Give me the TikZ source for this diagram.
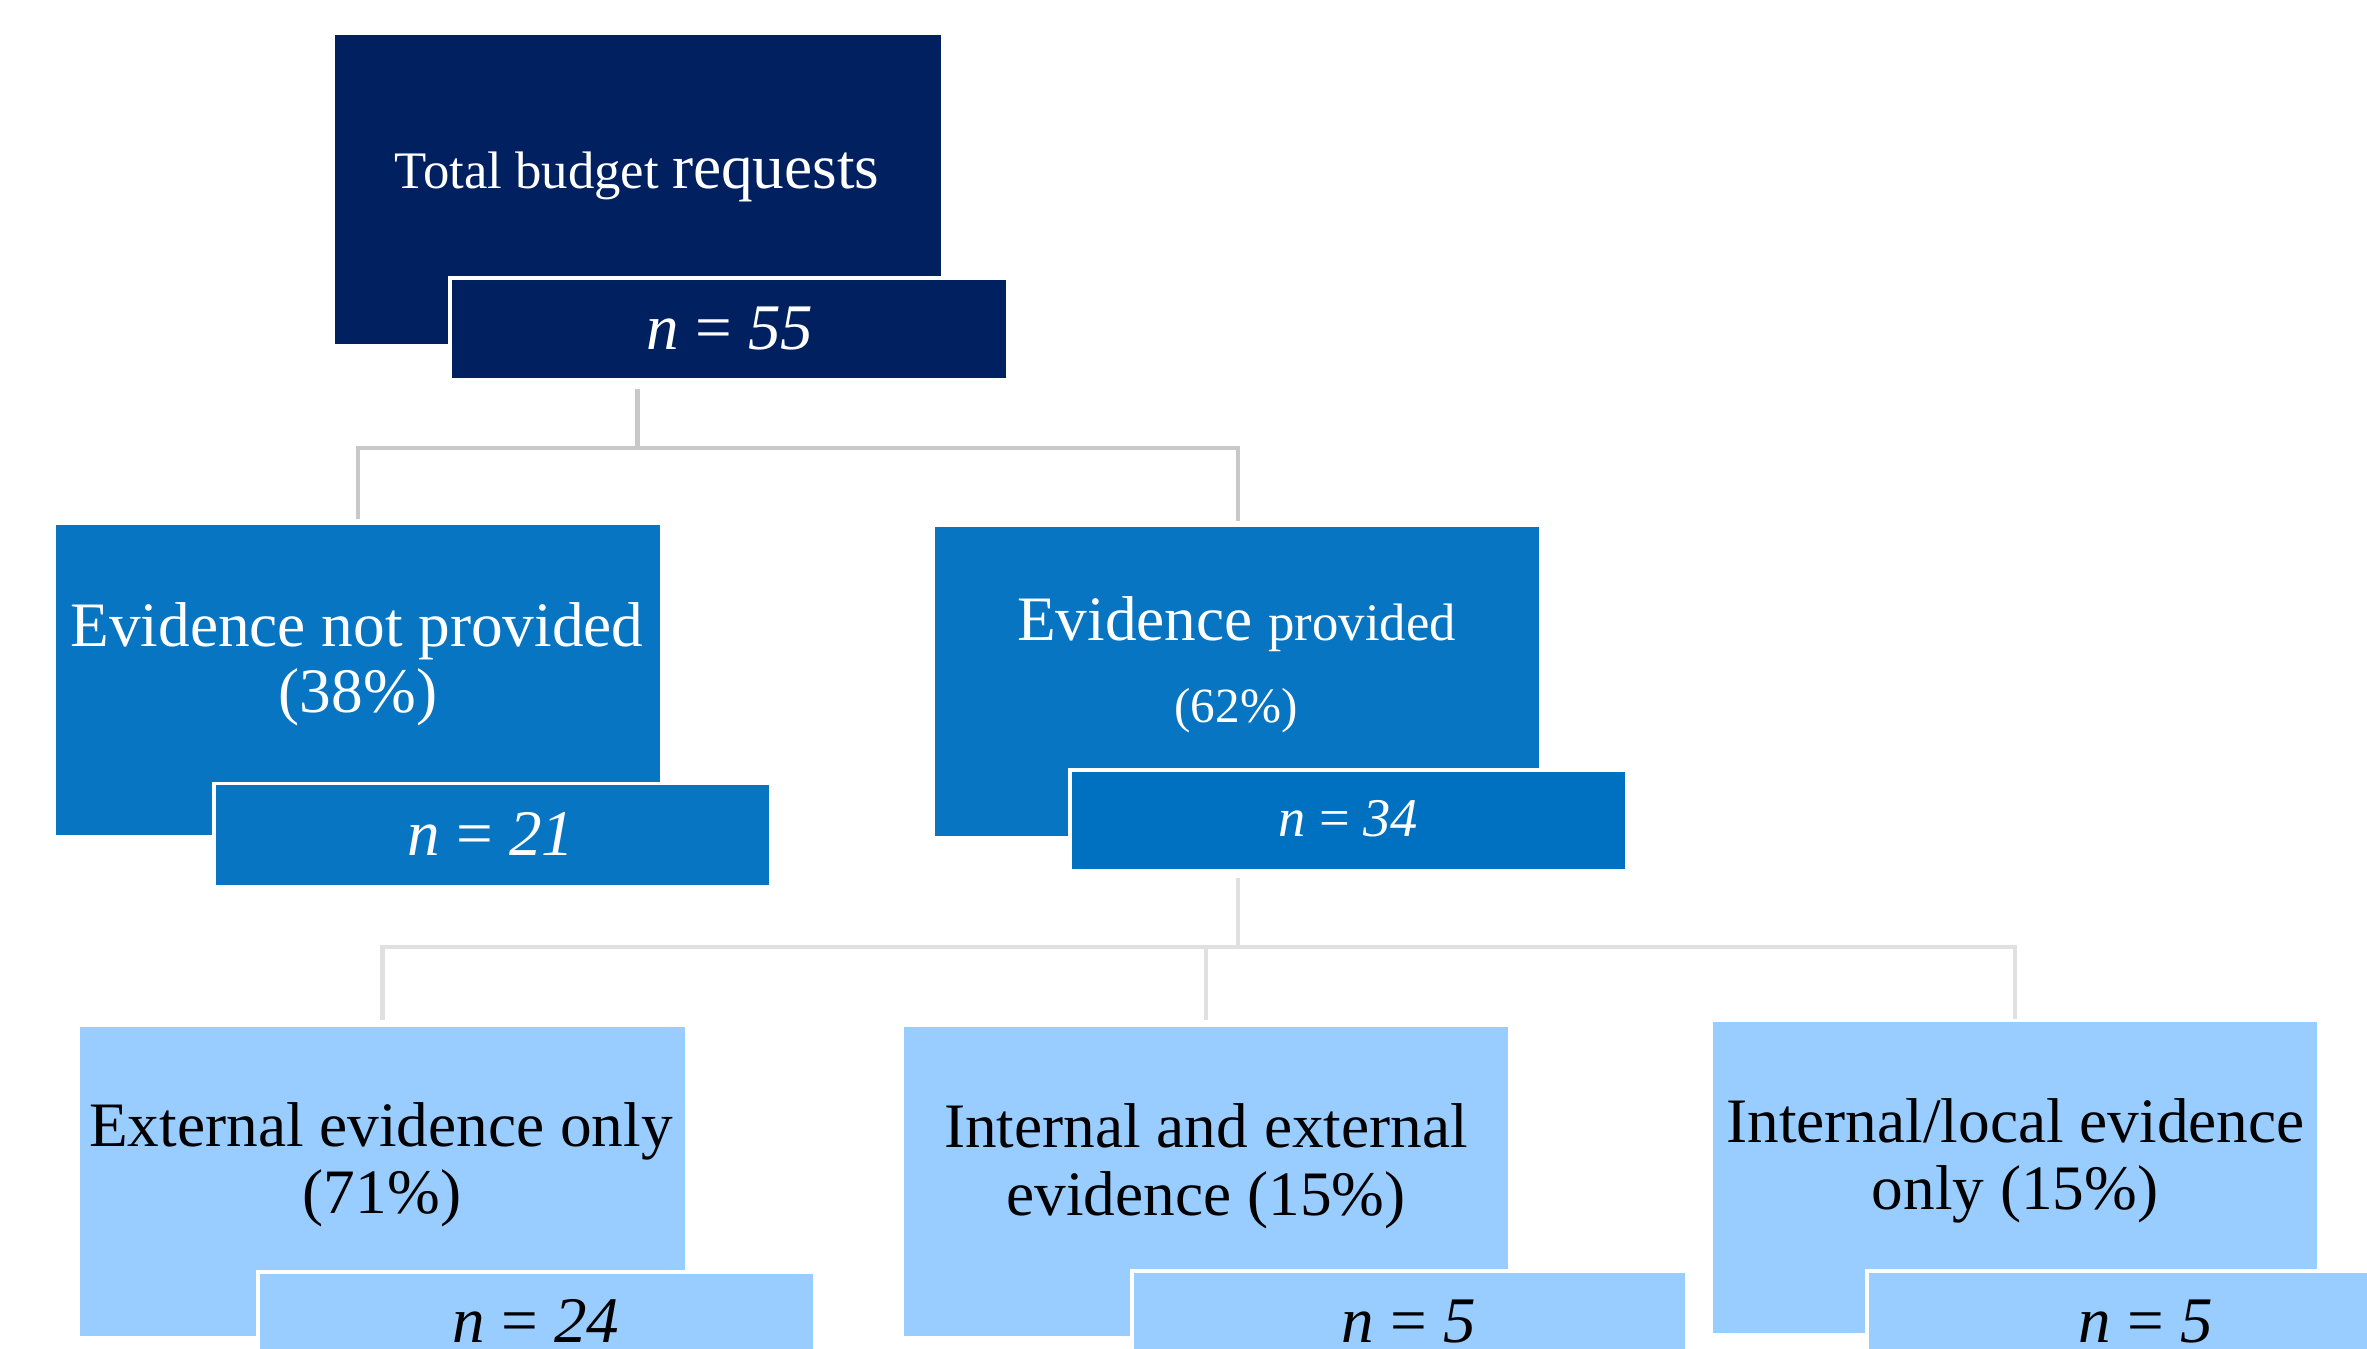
\documentclass[tikz,border=0pt]{standalone}
\usepackage{fontspec}
\setmainfont{Liberation Serif}
\usetikzlibrary{calc}
\definecolor{navy}{HTML}{002060}
\definecolor{midblue}{HTML}{0775C1}
\definecolor{midblueN}{HTML}{0070C0}
\definecolor{lightblue}{HTML}{99CCFF}
\definecolor{connA}{HTML}{C8C8C8}
\definecolor{connB}{HTML}{E0E0E0}
\begin{document}
\begin{tikzpicture}[x=0.01cm,y=-0.01cm,
  box/.style={rectangle, anchor=north west, inner sep=0pt, outer sep=0pt, draw=none},
  nbox/.style={box, draw=white, line width=0.035cm},
  lbl/.style={anchor=base, inner sep=0pt, outer sep=0pt},
  big/.style={font=\fontsize{18}{20}\selectfont},
  conn/.style={line width=0.045cm},
]
\clip (0,0) rectangle (2367,1349);
\fill[white] (0,0) rectangle (2367,1349);

% connectors level 1
\coordinate (j1) at (637.5,448);
\draw[conn, draw=connA] (637.5,389) -- (j1);
\draw[conn, draw=connA, shorten >=0.06cm] (j1) -| (358,525);
\draw[conn, draw=connA, shorten >=0.06cm] (j1) -| (1238,527);
% connectors level 2
\coordinate (j2) at (1238,947);
\draw[conn, draw=connB] (1238,878) -- (j2);
\draw[conn, draw=connB, shorten >=0.07cm] (j2) -| (382.5,1026.5);
\draw[conn, draw=connB, shorten >=0.07cm] (j2) -| (1206,1026.5);
\draw[conn, draw=connB, shorten >=0.03cm] (j2) -| (2015,1022);

% top
\node[box, fill=navy, minimum width=6.06cm, minimum height=3.09cm] (top) at (335,35) {};
\node[nbox, fill=navy, minimum width=5.57cm, minimum height=1.02cm] (topn) at (450,278) {};
\node[lbl, text=white] (toptxt) at (637,189) {\fontsize{15}{18}\selectfont Total budget \fontsize{18}{20}\selectfont requests};
\node[lbl, text=white, font=\fontsize{18.5}{20}\selectfont] (topntxt) at (730,350) {\textit{n} = \textit{55}};

% middle left
\node[box, fill=midblue, minimum width=6.04cm, minimum height=3.10cm] (midL) at (56,525) {};
\node[nbox, fill=midblue, minimum width=5.56cm, minimum height=1.03cm] (midLn) at (214,783.5) {};
\node[lbl, big, text=white] (midLa) at (357,646) {Evidence not provided};
\node[lbl, big, text=white] (midLb) at (358,712) {(38\%)};
\node[lbl, text=white, font=\fontsize{18.5}{20}\selectfont] (midLntxt) at (491,855) {\textit{n} = \textit{21}};

% middle right
\node[box, fill=midblue, minimum width=6.04cm, minimum height=3.09cm] (midR) at (934.5,527) {};
\node[nbox, fill=midblueN, minimum width=5.56cm, minimum height=1.01cm] (midRn) at (1070,770) {};
\node[lbl, text=white] (midRa) at (1236.5,640) {\fontsize{18}{20}\selectfont Evidence \fontsize{15}{18}\selectfont provided};
\node[lbl, text=white, font=\fontsize{14}{16}\selectfont] (midRb) at (1236,722) {(62\%)};
\node[lbl, text=white, font=\fontsize{15.5}{18}\selectfont] (midRntxt) at (1348,836) {\textit{n} = \textit{34}};

% bottom left
\node[box, fill=lightblue, minimum width=6.05cm, minimum height=3.095cm] (botL) at (80,1026.5) {};
\node[nbox, fill=lightblue, minimum width=5.56cm, minimum height=1.02cm] (botLn) at (258,1272) {};
\node[lbl, big] (botLa) at (381,1146) {External evidence only};
\node[lbl, big] (botLb) at (382,1213) {(71\%)};
\node[lbl, font=\fontsize{18.5}{20}\selectfont] (botLntxt) at (536,1342) {\textit{n} = \textit{24}};

% bottom middle
\node[box, fill=lightblue, minimum width=6.04cm, minimum height=3.095cm] (botM) at (904,1026.5) {};
\node[nbox, fill=lightblue, minimum width=5.54cm, minimum height=1.02cm] (botMn) at (1132,1271) {};
\node[lbl, big] (botMa) at (1206,1147) {Internal and external};
\node[lbl, big] (botMb) at (1206,1215) {evidence (15\%)};
\node[lbl, font=\fontsize{18.5}{20}\selectfont] (botMntxt) at (1409,1342) {\textit{n} = \textit{5}};

% bottom right
\node[box, fill=lightblue, minimum width=6.04cm, minimum height=3.11cm] (botR) at (1713,1022) {};
\node[nbox, fill=lightblue, minimum width=5.56cm, minimum height=1.02cm] (botRn) at (1867,1271) {};
\node[lbl, big] (botRa) at (2015.5,1142) {Internal/local evidence};
\node[lbl, big] (botRb) at (2015,1209) {only (15\%)};
\node[lbl, font=\fontsize{18.5}{20}\selectfont] (botRntxt) at (2146,1342) {\textit{n} = \textit{5}};
\end{tikzpicture}
\end{document}
